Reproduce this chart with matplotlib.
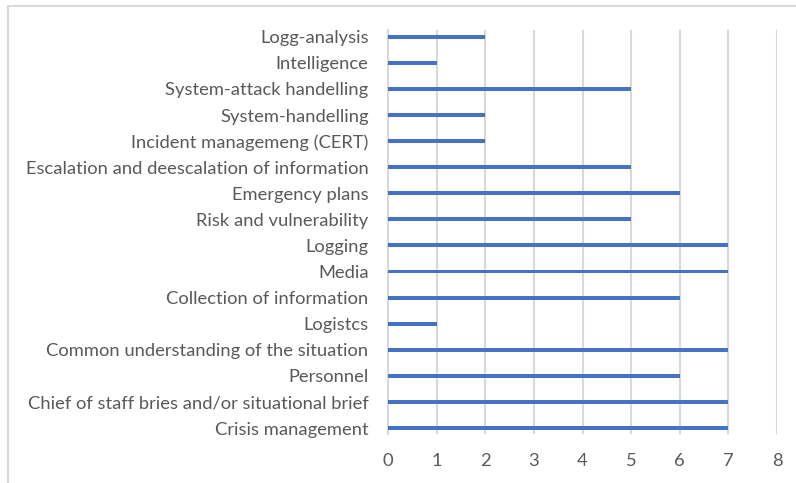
import matplotlib
matplotlib.use('Agg')
import matplotlib.pyplot as plt
from matplotlib.patches import Rectangle

# categories listed bottom to top
categories = [
    'Crisis management',
    'Chief of staff bries and/or situational brief',
    'Personnel',
    'Common understanding of the situation',
    'Logistcs',
    'Collection of information',
    'Media',
    'Logging',
    'Risk and vulnerability',
    'Emergency plans',
    'Escalation and deescalation of information',
    'Incident managemeng (CERT)',
    'System-handelling',
    'System-attack handelling',
    'Intelligence',
    'Logg-analysis',
]
values = [7, 7, 6, 7, 1, 6, 7, 7, 5, 6, 5, 2, 2, 5, 1, 2]
x_ticks = list(range(0, 9))

plt.rcParams['font.family'] = ['Lato', 'DejaVu Sans']

fig = plt.figure(figsize=(7.96, 4.83), dpi=100)
ax = fig.add_axes([388 / 796, 1 - 434 / 483, 389 / 796, 404 / 483])

# chart border, cut off at the right and bottom
fig.patches.append(Rectangle((8 / 796, -0.1), 1.2, (483 - 6) / 483 + 0.1,
                             transform=fig.transFigure, fill=False,
                             edgecolor='#d9d9d9', linewidth=1.5))

ypos = list(range(len(categories)))
ax.barh(ypos, values, height=0.15, color='#4472c4', zorder=3)

ax.set_xlim(0, 8)
ax.set_ylim(-0.23, 15.26)
ax.set_xticks(x_ticks)
ax.set_yticks(ypos)
ax.set_yticklabels(categories)
ax.grid(axis='x', color='#d9d9d9', linewidth=1.5, zorder=0)
ax.set_axisbelow(True)

for side in ['top', 'right', 'bottom']:
    ax.spines[side].set_visible(False)
ax.spines['left'].set_color('#d9d9d9')
ax.spines['left'].set_linewidth(1.5)

ax.tick_params(axis='both', length=0, labelsize=13.2, colors='#595959')
ax.tick_params(axis='x', pad=14)
ax.tick_params(axis='y', pad=14)

fig.savefig('out.png', dpi=100)
